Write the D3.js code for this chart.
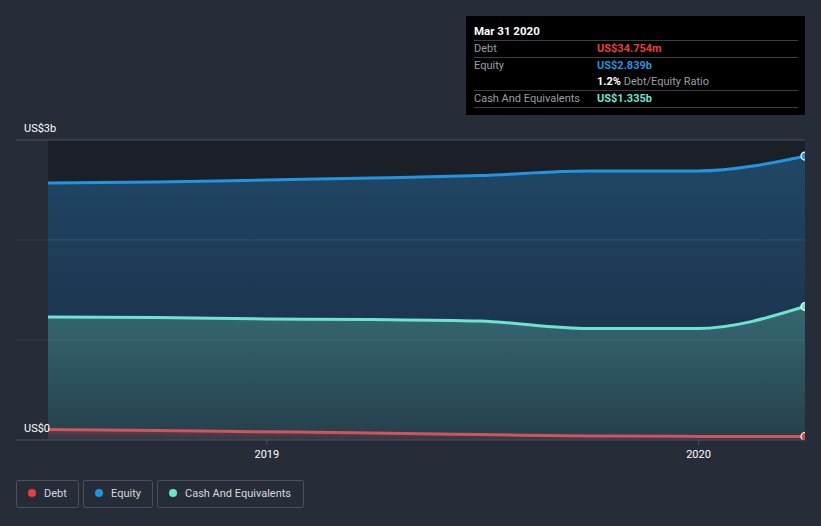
<!DOCTYPE html>
<html><head><meta charset="utf-8">
<script src="https://cdn.jsdelivr.net/npm/d3@7"></script>
<style>
body{margin:0;background:#262c38;}
svg{display:block;font-family:Roboto,"Open Sans",sans-serif;}
</style></head>
<body><svg id="c" width="821" height="526"></svg>
<script>
const dates = ["2018-06-30","2018-09-30","2018-12-31","2019-03-31","2019-06-30","2019-09-30","2019-12-31","2020-03-31"];
const debt = [0.105,0.095,0.082,0.07,0.055,0.04,0.036,0.034754];
const equity = [2.57,2.58,2.60,2.62,2.645,2.69,2.69,2.839];
const cash = [1.23,1.225,1.21,1.205,1.19,1.115,1.115,1.335];
const yTicks = [0,1,2,3];
const yTickLabels = {0:"US$0",3:"US$3b"};
const xTicks = ["2019-01-01","2020-01-01"];

const parse = d3.utcParse("%Y-%m-%d");
const D = dates.map(parse);
const svg = d3.select("#c");
const x = d3.scaleUtc().domain([D[0], D[D.length-1]]).range([48,805]);
const y = d3.scaleLinear().domain([0,3]).range([440,140]);

const defs = svg.append("defs");
defs.append("clipPath").attr("id","clip").append("rect").attr("x",48).attr("y",100).attr("width",757).attr("height",340);
function grad(id, c1, c2){
  const g = defs.append("linearGradient").attr("id",id).attr("x1",0).attr("y1",0).attr("x2",0).attr("y2",1);
  g.append("stop").attr("offset","0%").attr("stop-color",c1);
  g.append("stop").attr("offset","100%").attr("stop-color",c2);
}
grad("gEq","#214766","#172a40");
grad("gCash","#356872","#253f4b");
grad("gDebt","#5a4550","#3a3440");

// plot dark background above data
svg.append("rect").attr("x",48).attr("y",140).attr("width",757).attr("height",300).attr("fill","#1b1f27");

const pts = arr => arr.map((v,i)=>[D[i],v]);
const area = d3.area().x(d=>x(d[0])).y0(y(0)).y1(d=>y(d[1])).curve(d3.curveMonotoneX);
const line = d3.line().x(d=>x(d[0])).y(d=>y(d[1])).curve(d3.curveMonotoneX);

const g = svg.append("g").attr("clip-path","url(#clip)");
g.append("path").attr("d",area(pts(equity))).attr("fill","url(#gEq)");
g.append("path").attr("d",area(pts(cash))).attr("fill","url(#gCash)");
g.append("path").attr("d",area(pts(debt))).attr("fill","url(#gDebt)").attr("opacity",0.8);

// gridlines
svg.append("g").selectAll("line").data(yTicks).join("line")
  .attr("x1",16).attr("x2",805).attr("y1",d=>y(d)).attr("y2",d=>y(d))
  .attr("stroke",d=>d===3?"#4b515e":(d===0?"#4b515e":"rgba(255,255,255,0.09)")).attr("stroke-width",1);

g.append("path").attr("d",line(pts(equity))).attr("fill","none").attr("stroke","#2394df").attr("stroke-width",3);
g.append("path").attr("d",line(pts(cash))).attr("fill","none").attr("stroke","#6fe3cf").attr("stroke-width",3);
g.append("path").attr("d",line(pts(debt))).attr("fill","none").attr("stroke","#d4525a").attr("stroke-width",3);

// end markers
const last = D.length-1;
[[equity,"#2394df"],[cash,"#6fe3cf"],[debt,"#e64141"]].forEach(([arr,c])=>{
  g.append("circle").attr("cx",x(D[last])).attr("cy",y(arr[last])).attr("r",4)
   .attr("fill",c).attr("stroke","#ffffff").attr("stroke-width",1.2);
});

// y labels
svg.append("g").selectAll("text").data(yTicks.filter(t=>yTickLabels[t])).join("text")
  .attr("x",24).attr("y",d=>y(d)-8).attr("fill","#ffffff").attr("font-size",11)
  .text(d=>yTickLabels[d]);

// x axis ticks
const xt = xTicks.map(parse);
svg.append("g").selectAll("line").data(xt).join("line")
  .attr("x1",d=>x(d)).attr("x2",d=>x(d)).attr("y1",440).attr("y2",445).attr("stroke","#4b515e");
svg.append("g").selectAll("text").data(xt).join("text")
  .attr("x",d=>x(d)).attr("y",458).attr("text-anchor","middle").attr("fill","#ffffff").attr("font-size",11)
  .text(d=>d3.utcFormat("%Y")(d));

// tooltip
const tt = svg.append("g");
tt.append("rect").attr("x",466).attr("y",16).attr("width",339).attr("height",99).attr("fill","#000000");
tt.append("text").attr("x",474).attr("y",35).attr("fill","#fff").attr("font-size",11.5).attr("font-weight","bold").text("Mar 31 2020");
[40,57,90,107].forEach(yy=>tt.append("line").attr("x1",474).attr("x2",798).attr("y1",yy+0.5).attr("y2",yy+0.5).attr("stroke","#3c3f46"));
const rows = [
  {y:52,label:"Debt",val:"US$"+(debt[last]*1000).toFixed(3)+"m",c:"#e64141"},
  {y:69,label:"Equity",val:"US$"+equity[last].toFixed(3)+"b",c:"#2394df"},
  {y:102,label:"Cash And Equivalents",val:"US$"+cash[last].toFixed(3)+"b",c:"#6fe3cf"}
];
rows.forEach(r=>{
  tt.append("text").attr("x",474).attr("y",r.y).attr("fill","#9a9ea6").attr("font-size",11).text(r.label);
  tt.append("text").attr("x",597).attr("y",r.y).attr("fill",r.c).attr("font-size",11).attr("font-weight","bold").text(r.val);
});
const rt = tt.append("text").attr("x",597).attr("y",85).attr("font-size",11);
rt.append("tspan").attr("fill","#fff").attr("font-weight","bold").text((debt[last]/equity[last]*100).toFixed(1)+"%");
rt.append("tspan").attr("fill","#9a9ea6").text(" Debt/Equity Ratio");

// legend
const leg = [{n:"Debt",c:"#e64141",x:16,w:62},{n:"Equity",c:"#2394df",x:83,w:69},{n:"Cash And Equivalents",c:"#6fe3cf",x:157,w:146}];
const lg = svg.append("g");
leg.forEach(l=>{
  lg.append("rect").attr("x",l.x+0.5).attr("y",480.5).attr("width",l.w).attr("height",27).attr("rx",2)
    .attr("fill","none").attr("stroke","#4b515e");
  lg.append("circle").attr("cx",l.x+16).attr("cy",493).attr("r",4).attr("fill",l.c);
  lg.append("text").attr("x",l.x+28).attr("y",497).attr("fill","#d7d9dd").attr("font-size",11).text(l.n);
});
</script></body></html>
